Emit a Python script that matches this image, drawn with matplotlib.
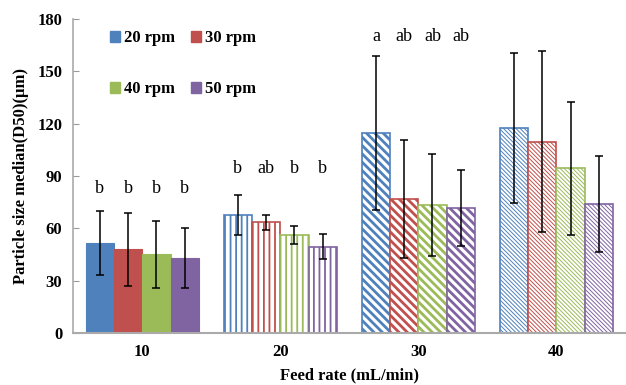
import numpy as np
import matplotlib
matplotlib.use("Agg")
import matplotlib.pyplot as plt
from matplotlib.patches import Patch

plt.rcParams['font.family'] = ['Liberation Serif', 'DejaVu Serif']

feed_rates = ["10", "20", "30", "40"]
speeds = ["20 rpm", "30 rpm", "40 rpm", "50 rpm"]
colors = ["#4F81BD", "#C0504D", "#9BBB59", "#8064A2"]

# rows = speed, columns = feed rate
d50 = [
    [51.5, 67.7, 114.5, 117.5],
    [48.0, 63.5, 76.7, 109.7],
    [45.0, 56.2, 73.2, 94.4],
    [43.0, 49.5, 71.7, 73.8],
]
sd = [
    [18.5, 11.5, 44.0, 43.0],
    [21.0, 4.2, 33.7, 52.0],
    [19.0, 5.0, 29.2, 38.0],
    [17.0, 7.2, 21.6, 27.5],
]
letters = [
    ["b", "b", "a", ""],
    ["b", "ab", "ab", ""],
    ["b", "b", "ab", ""],
    ["b", "b", "ab", ""],
]
letter_y = [83, 94, 170, 0]

hatches = [None, "|||", "\\\\\\\\", "\\\\\\\\\\\\\\\\"]
hatch_lw = [1.0, 1.3, 2.0, 0.7]

fig = plt.figure(figsize=(6.26, 3.85), dpi=100)
ax = fig.add_axes([0.117, 0.135, 0.882, 0.816])

x = np.arange(len(feed_rates))
w = 0.205
for i in range(len(speeds)):
    xs = x + (i - 1.5) * w
    for j in range(len(feed_rates)):
        if hatches[j] is None:
            b = ax.bar(xs[j], d50[i][j], w, color=colors[i], edgecolor=colors[i], linewidth=0.8, zorder=2)
        else:
            b = ax.bar(xs[j], d50[i][j], w, facecolor="white", edgecolor=colors[i],
                       hatch=hatches[j], linewidth=1.2, zorder=2)
            for p in b.patches:
                if hasattr(p, "set_hatch_linewidth"):
                    p.set_hatch_linewidth(hatch_lw[j])
        ax.errorbar(xs[j], d50[i][j], yerr=sd[i][j], fmt="none", ecolor="black",
                    elinewidth=1.1, capsize=3, capthick=1.1, zorder=3)
        if letters[i][j]:
            ax.text(xs[j], letter_y[j], letters[i][j], ha="center", va="center", fontsize=13)

ax.set_xlim(-0.5, 3.5)
ax.set_ylim(0, 180)
ax.set_yticks(np.arange(0, 181, 30))
ax.set_xticks(x)
ax.set_xticklabels(feed_rates, fontsize=12, fontweight="bold")
ax.tick_params(axis="y", labelsize=12, direction="in", length=4, color="#999999", pad=8)
ax.tick_params(axis="x", length=0, pad=8)
for lab in ax.get_yticklabels():
    lab.set_fontweight("bold")
ax.spines["top"].set_visible(False)
ax.spines["right"].set_visible(False)
ax.spines["left"].set_color("#AAAAAA")
ax.spines["bottom"].set_color("#AAAAAA")
ax.spines["left"].set_linewidth(1.2)
ax.spines["bottom"].set_linewidth(1.5)

ax.set_xlabel("Feed rate (mL/min)", fontsize=12, fontweight="bold", labelpad=5)
ax.set_ylabel("Particle size median(D50)(\u03bcm)", fontsize=12, fontweight="bold", labelpad=6)

# matplotlib fills legend column by column, reorder so rows read 20/30, 40/50
order = [0, 2, 1, 3]
handles = [Patch(facecolor=colors[k], edgecolor=colors[k]) for k in order]
labels = [speeds[k] for k in order]
ax.legend(handles, labels, ncol=2, loc="upper left", bbox_to_anchor=(0.04, 1.012),
          frameon=False, prop={"weight": "bold", "size": 12},
          handlelength=0.6, handleheight=0.6, handletextpad=0.2,
          columnspacing=1.0, labelspacing=2.1)

fig.savefig("out.png", dpi=100)
